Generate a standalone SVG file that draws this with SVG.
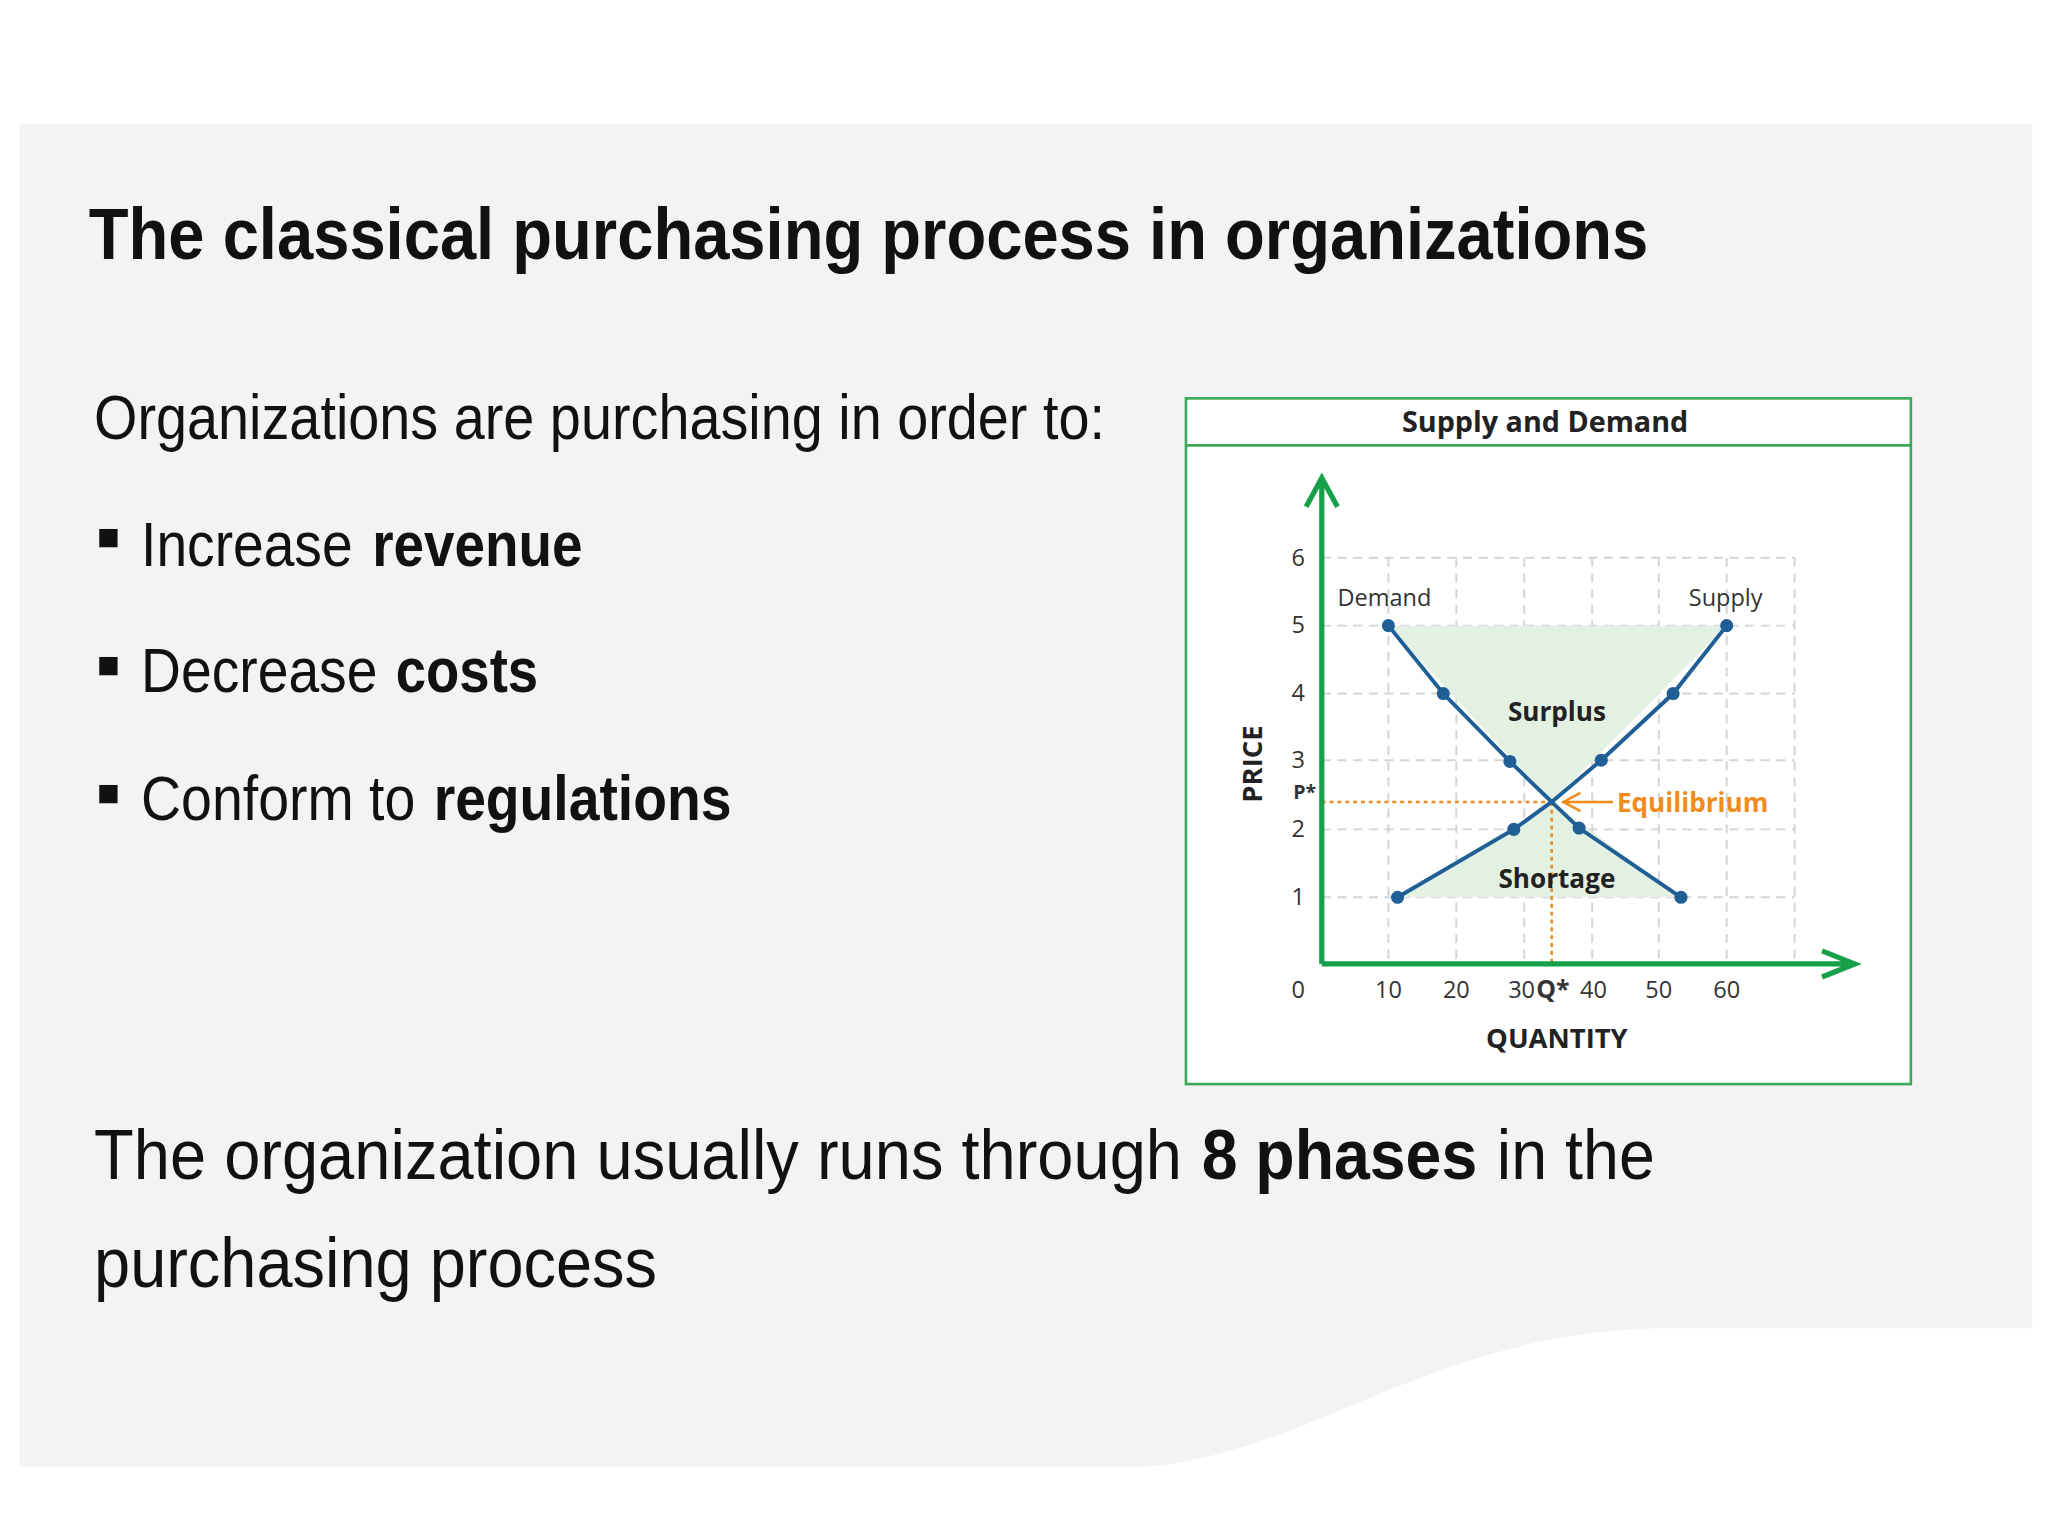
<svg xmlns="http://www.w3.org/2000/svg" width="2048" height="1536" viewBox="0 0 2048 1536">
<style>
.h{font-family:"Liberation Sans Narrow","Liberation Sans",Arial,sans-serif;fill:#111}
.c{font-family:"Open Sans","Liberation Sans",sans-serif;fill:#333}
.dk{fill:#222}
.eq{fill:#f08c1e}
.grid{stroke:#d4d4d4;stroke-width:1.5;stroke-dasharray:7 5;fill:none}
.crv{stroke:#1f5f96;stroke-width:3;fill:none}
.dot{fill:#1f5f96}
.ax{stroke:#16a04a;stroke-width:4;fill:none}
.or{stroke:#f08c1e;stroke-width:2;stroke-dasharray:3 3;fill:none}
</style>
<rect width="2048" height="1536" fill="#fff"/>
<g transform="scale(1.30612)">
<path d="M15,95 H1556 V1017 H1280 C1100,1017 1010,1110 880,1123 H15 Z" fill="#f3f3f3"/>
<text class="h" x="68" y="198" font-size="56" font-weight="bold" textLength="1194" lengthAdjust="spacingAndGlyphs">The classical purchasing process in organizations</text>
<text class="h" x="72" y="336" font-size="48" textLength="774" lengthAdjust="spacingAndGlyphs">Organizations are purchasing in order to:</text>
<g id="b1"><rect x="76" y="405" width="14" height="14" fill="#111"/><text class="h" x="108" y="433" font-size="48" textLength="162" lengthAdjust="spacingAndGlyphs">Increase</text><text class="h" x="285" y="433" font-size="48" font-weight="bold" textLength="161" lengthAdjust="spacingAndGlyphs">revenue</text></g>
<g id="b2"><rect x="76" y="503" width="14" height="14" fill="#111"/><text class="h" x="108" y="530" font-size="48" textLength="181" lengthAdjust="spacingAndGlyphs">Decrease</text><text class="h" x="303" y="530" font-size="48" font-weight="bold" textLength="109" lengthAdjust="spacingAndGlyphs">costs</text></g>
<g id="b3"><rect x="76" y="601" width="14" height="14" fill="#111"/><text class="h" x="108" y="628" font-size="48" textLength="210" lengthAdjust="spacingAndGlyphs">Conform to</text><text class="h" x="332" y="628" font-size="48" font-weight="bold" textLength="228" lengthAdjust="spacingAndGlyphs">regulations</text></g>
<text class="h" x="72" y="903" font-size="54" textLength="833" lengthAdjust="spacingAndGlyphs">The organization usually runs through</text>
<text class="h" x="920" y="903" font-size="54" font-weight="bold" textLength="211" lengthAdjust="spacingAndGlyphs">8 phases</text>
<text class="h" x="1146" y="903" font-size="54" textLength="121" lengthAdjust="spacingAndGlyphs">in the</text>
<text class="h" x="72" y="985" font-size="54" textLength="431" lengthAdjust="spacingAndGlyphs">purchasing process</text>

<g id="chart">
<rect x="908" y="305" width="555" height="525" fill="#fff" stroke="#3aaa5a" stroke-width="2"/>
<line x1="908" y1="341" x2="1463" y2="341" stroke="#3aaa5a" stroke-width="2"/>
<text class="c dk" x="1183" y="331" font-size="22" font-weight="bold" text-anchor="middle">Supply and Demand</text>
<g class="grid">
<path d="M1012,427H1374M1012,479H1374M1012,531H1374M1012,582H1374M1012,635H1374M1012,687H1374"/>
<path d="M1063,427V738M1115,427V738M1167,427V738M1219,427V738M1270,427V738M1322,427V738M1374,427V738"/>
</g>
<polygon points="1063,479 1322,479 1188,614" fill="#e3f1e3"/>
<polygon points="1070,687 1287,687 1188,614" fill="#e3f1e3"/>
<line class="or" x1="1012" y1="614" x2="1188" y2="614"/>
<line class="or" x1="1188" y1="614" x2="1188" y2="738"/>
<g id="connectors">
<polyline class="crv" points="1063,479 1105,531 1156,583 1188,614 1209,634 1287,687"/>
<polyline class="crv" points="1070,687 1159,635 1188,614 1226,582 1281,531 1322,479"/>
<path d="M1235,614H1197M1210,607L1197,614L1210,621" stroke="#f08c1e" stroke-width="2" fill="none"/>
<path class="ax" d="M1012,738V366M1000,388L1012,366L1024,388"/>
<path class="ax" d="M1012,738H1420M1395,728L1420,738L1395,748"/>
</g>
<g class="dot">
<circle cx="1063" cy="479" r="5"/><circle cx="1105" cy="531" r="5"/><circle cx="1156" cy="583" r="5"/><circle cx="1209" cy="634" r="5"/><circle cx="1287" cy="687" r="5"/>
<circle cx="1070" cy="687" r="5"/><circle cx="1159" cy="635" r="5"/><circle cx="1226" cy="582" r="5"/><circle cx="1281" cy="531" r="5"/><circle cx="1322" cy="479" r="5"/>
</g>
<g class="c" font-size="18" text-anchor="middle">
<text x="994" y="433">6</text><text x="994" y="485">5</text><text x="994" y="537">4</text><text x="994" y="588">3</text><text x="994" y="641">2</text><text x="994" y="693">1</text>
<text x="999" y="612" font-weight="bold" font-size="15">P*</text>
<text x="994" y="764">0</text><text x="1063" y="764">10</text><text x="1115" y="764">20</text><text x="1165" y="764">30</text><text x="1189" y="764" font-weight="bold" font-size="19">Q*</text><text x="1220" y="764">40</text><text x="1270" y="764">50</text><text x="1322" y="764">60</text>
</g>
<text class="c" x="1024" y="464" font-size="18">Demand</text>
<text class="c" x="1293" y="464" font-size="18">Supply</text>
<text class="c dk" x="1192" y="552" font-size="20" font-weight="bold" text-anchor="middle">Surplus</text>
<text class="c dk" x="1192" y="680" font-size="20" font-weight="bold" text-anchor="middle">Shortage</text>
<text class="c eq" x="1238" y="622" font-size="20" font-weight="bold">Equilibrium</text>
<text class="c dk" x="1192" y="802" font-size="21" font-weight="bold" text-anchor="middle">QUANTITY</text>
<text class="c dk" transform="translate(966,585) rotate(-90)" font-size="21" font-weight="bold" text-anchor="middle">PRICE</text>
</g>
</g>
</svg>
